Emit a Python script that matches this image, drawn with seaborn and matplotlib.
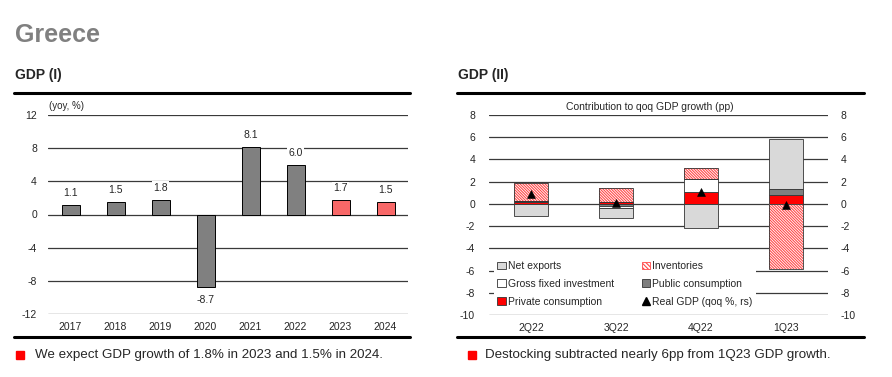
import numpy as np
import pandas as pd
import seaborn as sns
import matplotlib.pyplot as plt
from matplotlib.patches import Patch, Rectangle
from matplotlib.lines import Line2D

# ---- data ----
years = ['2017', '2018', '2019', '2020', '2021', '2022', '2023', '2024']
gdp_yoy = [1.1, 1.5, 1.8, -8.7, 8.1, 6.0, 1.7, 1.5]
forecast = [False, False, False, False, False, False, True, True]

quarters = ['2Q22', '3Q22', '4Q22', '1Q23']
private_cons = [0.15, 0.2, 1.1, 0.8]
public_cons = [0.1, -0.15, 0.0, 0.5]
gfi = [0.0, -0.25, 1.1, 0.0]
inventories = [1.65, 1.25, 1.05, -5.9]
net_exports = [-1.05, -0.85, -2.15, 4.55]
real_gdp = [0.9, 0.1, 1.1, -0.1]

sns.set_style('white')
plt.rcParams['font.family'] = ['Liberation Sans', 'DejaVu Sans']
plt.rcParams['axes.unicode_minus'] = False
plt.rcParams['hatch.linewidth'] = 0.8

W, H = 892, 377
fig = plt.figure(figsize=(W / 100, H / 100), dpi=100)


def fx(px):
    return px / W


def fy(py):
    return 1 - py / H


grid_c = '#3a3a3a'
hatch_str = '\\' * 12
hatch_red = '#ff4a4a'

# ---- header ----
fig.text(fx(15), fy(35), 'Greece', fontsize=18, fontweight='bold', color='#808080', va='center')
fig.text(fx(15), fy(75), 'GDP (I)', fontsize=10, fontweight='bold', va='center')
fig.text(fx(458), fy(75), 'GDP (II)', fontsize=10, fontweight='bold', va='center')
for x0, x1 in [(14, 410), (457, 864)]:
    fig.add_artist(Line2D([fx(x0), fx(x1)], [fy(93), fy(93)], color='black', lw=2.2))
    fig.add_artist(Line2D([fx(x0), fx(x1)], [fy(337), fy(337)], color='black', lw=2.2))

# ---- left chart ----
ax = fig.add_axes([fx(48), fy(314), fx(360), (314 - 115) / H])
df1 = pd.DataFrame({'year': years, 'gdp': gdp_yoy})
pal = {y: ('#f86868' if f else '#808080') for y, f in zip(years, forecast)}
sns.barplot(data=df1, x='year', y='gdp', hue='year', palette=pal, legend=False,
            width=0.4, edgecolor='black', linewidth=0.7, saturation=1,
            errorbar=None, zorder=3, ax=ax)
ax.set_ylim(-12, 12)
ax.set_xlim(-0.5, len(years) - 0.5)
ax.set_yticks(range(-12, 13, 4))
for v in range(-12, 13, 4):
    ax.axhline(v, color=grid_c, lw=0.9, zorder=1)
for i, v in enumerate(gdp_yoy):
    off = 5 if v >= 0 else -6
    ax.annotate(f'{v:.1f}', (i, v), xytext=(0, off), textcoords='offset points',
                ha='center', va='bottom' if v >= 0 else 'top', fontsize=7.5,
                bbox=dict(facecolor='white', edgecolor='none', pad=1), zorder=4)
ax.set_xlabel('')
ax.set_ylabel('')
ax.tick_params(axis='both', length=0, labelsize=7.5)
ax.tick_params(axis='y', pad=8)
ax.tick_params(axis='x', pad=6)
sns.despine(ax=ax, left=True, bottom=True)
fig.text(fx(49), fy(106), '(yoy, %)', fontsize=7, va='center')

# ---- right chart ----
axr = fig.add_axes([fx(489), fy(315), fx(339), (315 - 115) / H])
comps = [
    ('Private consumption', private_cons, '#ff0000', None),
    ('Public consumption', public_cons, '#7f7f7f', None),
    ('Gross fixed investment', gfi, 'white', None),
    ('Inventories', inventories, 'white', hatch_str),
    ('Net exports', net_exports, '#d9d9d9', None),
]
pos_base = np.zeros(len(quarters))
neg_base = np.zeros(len(quarters))
for name, vals, col, hatch in comps:
    vals = np.array(vals)
    bottom = np.where(vals >= 0, pos_base, neg_base)
    if hatch:
        sns.barplot(x=quarters, y=vals, bottom=bottom, color=col, width=0.4,
                    edgecolor=hatch_red, linewidth=0, hatch=hatch, saturation=1,
                    errorbar=None, zorder=3, ax=axr)
        sns.barplot(x=quarters, y=vals, bottom=bottom, color='#333333', fill=False,
                    width=0.4, linewidth=0.6, errorbar=None, zorder=3, ax=axr)
    else:
        sns.barplot(x=quarters, y=vals, bottom=bottom, color=col, width=0.4,
                    edgecolor='#333333', linewidth=0.6, saturation=1,
                    errorbar=None, zorder=3, ax=axr)
    pos_base = pos_base + np.where(vals >= 0, vals, 0)
    neg_base = neg_base + np.where(vals < 0, vals, 0)

axr.set_ylim(-10, 8)
axr.set_xlim(-0.5, len(quarters) - 0.5)
axr.set_yticks(range(-10, 9, 2))
for v in range(-10, 9, 2):
    axr.axhline(v, color=grid_c, lw=0.9, zorder=1)
axr.set_xlabel('')
axr.set_ylabel('')
axr.tick_params(axis='both', length=0, labelsize=7.5)
axr.tick_params(axis='y', pad=10)
axr.tick_params(axis='x', pad=6)
sns.despine(ax=axr, left=True, bottom=True)

ax2 = axr.twinx()
sns.scatterplot(x=np.arange(len(quarters)), y=real_gdp, marker='^', color='black',
                s=32, edgecolor='black', zorder=5, ax=ax2)
ax2.set_ylim(-10, 8)
ax2.set_yticks(range(-10, 9, 2))
ax2.tick_params(axis='y', length=0, labelsize=7.5, pad=9)
sns.despine(ax=ax2, left=True, bottom=True, right=True)

handles = [
    Patch(facecolor='#d9d9d9', edgecolor='#333333', lw=0.6, label='Net exports'),
    Patch(facecolor='white', edgecolor='#333333', lw=0.6, label='Gross fixed investment'),
    Patch(facecolor='#ff0000', edgecolor='#333333', lw=0.6, label='Private consumption'),
    Patch(facecolor='white', edgecolor=hatch_red, hatch='\\' * 8, lw=0.6, label='Inventories'),
    Patch(facecolor='#7f7f7f', edgecolor='#333333', lw=0.6, label='Public consumption'),
    Line2D([], [], marker='^', color='black', ls='none', markersize=6, label='Real GDP (qoq %, rs)'),
]
leg = ax2.legend(handles=handles, ncol=2, loc='upper left', bbox_to_anchor=(0.015, 0.285),
                 fontsize=7.5, frameon=True, facecolor='white', edgecolor='none',
                 framealpha=1, fancybox=False, handlelength=0.8, handleheight=0.8,
                 handletextpad=0.2, columnspacing=2.7, labelspacing=0.75,
                 borderpad=0.3, borderaxespad=0)
leg.set_zorder(6)

fig.text(fx(650), fy(107), 'Contribution to qoq GDP growth (pp)', fontsize=7.5,
         ha='center', va='center')

# ---- footnotes ----
for sx, tx, txt in [(16, 35, 'We expect GDP growth of 1.8% in 2023 and 1.5% in 2024.'),
                    (468, 485, 'Destocking subtracted nearly 6pp from 1Q23 GDP growth.')]:
    fig.add_artist(Rectangle((fx(sx), fy(359)), fx(8), 8 / H, color='#ff0000',
                             transform=fig.transFigure))
    fig.text(fx(tx), fy(355), txt, fontsize=9.6, va='center')

fig.savefig('out.png', dpi=100)
